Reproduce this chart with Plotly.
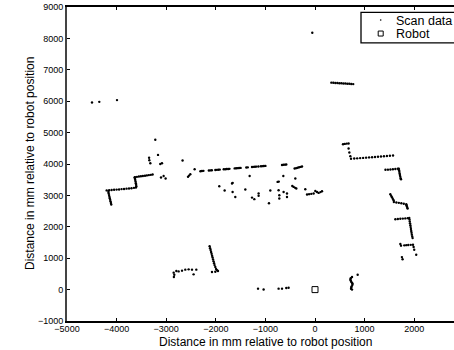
import plotly.graph_objects as go

# ---------------- data (mm) ----------------
scan_x = [
    # far points
    -4496, -4349, -3992, -55,
    # lower-left wall
    -4200, -4150, -4100, -4050, -4000, -3950, -3900, -3850, -3800, -3750, -3700, -3650, -3610,
    -4165, -4160, -4152, -4145, -4138, -4130, -4122, -4115, -4108,
    -3602, -3607, -3612, -3618, -3624, -3630, -3636,
    -3630, -3590, -3550, -3510, -3470, -3428, -3390, -3350, -3310, -3274,
    # scattered upper-left
    -3220, -3345, -3340, -3320, -3165, -3120, -3085, -2670, -3105, -3052, -3012,
    -2560, -2540, -2514, -2427,
    # long dashed wall
    -2310, -2280, -2250, -2140, -2110, -2080, -2010, -1980, -1950, -1920,
    -1840, -1810, -1780, -1750, -1725, -1620, -1590, -1560, -1530, -1500,
    -1385, -1355, -1270, -1240, -1210, -1180, -1140, -1090, -1060, -1030, -1000,
    -665, -635, -605, -579, -411, -380, -350, -320, -290, -262,
    # scattered middle
    -1318, -1930, -1673, -1660, -1822, -1661, -1607, -1405, -1270, -1224, -1137, -1137,
    -928, -901, -754, -730, -639, -734, -720, -720, -633, -565, -565, -397,
    -458, -430, -400, -377, -196, -161, -120, -75, -28, 6, 40, 73, 110, 141,
    # right upper wall
    330, 370, 410, 450, 490, 530, 570, 610, 650, 690, 730, 770,
    565, 600, 640, 677, 677, 692, 712,
    726, 790, 850, 910, 970, 1030, 1090, 1150, 1210, 1270, 1330, 1390, 1450, 1510, 1573,
    1420, 1470, 1520, 1570, 1620, 1670, 1690,
    1695, 1700, 1706, 1712, 1718, 1726, 1734,
    1518, 1535, 1552, 1568, 1585,
    1590, 1640, 1690, 1740, 1790, 1840,
    1845, 1852, 1860, 1867,
    1620, 1670, 1720, 1770, 1820, 1870, 1900,
    1905, 1910, 1916, 1922, 1928, 1934, 1940, 1946, 1952, 1960, 1968,
    1720, 1734, 1800, 1840, 1880, 1930, 1975, 1988, 2000, 2040, 1752, 1765,
    # lower-left objects
    -2125, -2115, -2105, -2095, -2085, -2075, -2065, -2055, -2045, -2035, -2025, -2010,
    -1995, -1975, -1956, -2077, -2010,
    -2850, -2837, -2845, -2796, -2750, -2681, -2615, -2548, -2480, -2448, -2393,
    # near robot
    -1149, -1036, -734, -665, -579, -532,
    746, 720, 712, 722, 732, 745, 758, 752, 738, 730, 726, 746, 860,
]
scan_y = [
    5960, 5980, 6035, 8180,
    3160, 3165, 3170, 3180, 3185, 3190, 3200, 3205, 3215, 3220, 3230, 3240, 3250,
    3110, 3060, 3010, 2960, 2910, 2860, 2810, 2760, 2710,
    3290, 3340, 3390, 3440, 3490, 3530, 3570,
    3582, 3590, 3600, 3610, 3618, 3628, 3637, 3646, 3655, 3665,
    4770, 4200, 4120, 4025, 4290, 4000, 4025, 4110, 3570, 3620, 3540,
    3590, 3630, 3675, 3835,
    3770, 3778, 3782, 3792, 3796, 3800, 3809, 3813, 3817, 3821,
    3831, 3835, 3839, 3843, 3846, 3860, 3864, 3868, 3872, 3875,
    3890, 3894, 3905, 3909, 3913, 3917, 3922, 3928, 3932, 3936, 3940,
    3970, 3975, 3980, 3985, 3855, 3868, 3880, 3895, 3908, 3920,
    3620, 3290, 3380, 3400, 3155, 3110, 2950, 3190, 2930, 2880, 3060, 2985,
    2750, 3155, 3430, 3440, 3620, 3165, 3005, 2900, 3110, 3060, 2950, 3540,
    3300, 3270, 3240, 3220, 3195, 3030, 3040, 3050, 3060, 3140, 3110, 3080, 3105, 3130,
    6590, 6586, 6582, 6578, 6574, 6570, 6566, 6562, 6558, 6554, 6550, 6545,
    4630, 4640, 4650, 4655, 4495, 4365, 4250,
    4165, 4173, 4180, 4188, 4195, 4202, 4210, 4217, 4225, 4232, 4240, 4247, 4255, 4262, 4270,
    3815, 3820, 3826, 3832, 3840, 3848, 3852,
    3800, 3750, 3700, 3650, 3600, 3550, 3515,
    3035, 2985, 2940, 2890, 2845,
    2790, 2776, 2762, 2748, 2734, 2720,
    2690, 2650, 2610, 2580,
    2240, 2247, 2254, 2261, 2268, 2275, 2280,
    2230, 2170, 2110, 2050, 1990, 1930, 1870, 1810, 1750, 1690, 1640,
    1450, 1400, 1410, 1415, 1420, 1425, 1430, 1355, 1270, 1110, 1035, 965,
    1380, 1320, 1260, 1200, 1140, 1080, 1020, 960, 900, 840, 780, 720,
    660, 620, 590, 560, 570,
    540, 475, 400, 590, 580, 603, 635, 645, 635, 485, 635,
    30, 5, 30, 30, 50, 60,
    400, 360, 316, 280, 240, 215, 188, 150, 102, 65, 29, 0, 475,
]
robot_x = [0]
robot_y = [0]

x_ticks = [-5000, -4000, -3000, -2000, -1000, 0, 1000, 2000]
y_ticks = [-1000, 0, 1000, 2000, 3000, 4000, 5000, 6000, 7000, 8000, 9000]
x_title = "Distance in mm relative to robot position"
y_title = "Distance in mm relative to robot position"
legend_labels = ["Scan data", "Robot"]

FONT = "Liberation Sans, Arial, Helvetica, sans-serif"

fig = go.Figure()
fig.add_trace(go.Scatter(x=scan_x, y=scan_y, mode="markers", name=legend_labels[0],
                         marker=dict(color="black", size=2.4), showlegend=False))
fig.add_trace(go.Scatter(x=robot_x, y=robot_y, mode="markers", name=legend_labels[1],
                         marker=dict(symbol="square-open", color="black", size=6,
                                     line=dict(width=1, color="black")),
                         showlegend=False))

fig.update_layout(
    width=454, height=350,
    margin=dict(l=67, r=0, t=7, b=29),
    paper_bgcolor="white", plot_bgcolor="white",
    font=dict(family=FONT, color="black", size=9),
    xaxis=dict(range=[-5000, 2802], tickvals=x_ticks, ticks="inside", ticklen=3,
               tickcolor="black", showline=True, linecolor="black", linewidth=1.5,
               mirror="ticks", showgrid=False, zeroline=False, ticklabelstandoff=-2,
               tickfont=dict(size=9, family=FONT)),
    yaxis=dict(range=[-1000, 9000], tickvals=y_ticks, ticks="inside", ticklen=3,
               tickcolor="black", showline=True, linecolor="#444", linewidth=2,
               mirror=False, showgrid=False, zeroline=False,
               tickfont=dict(size=9, family=FONT)),
)

# axis titles
fig.add_annotation(x=-1000, xref="x", y=-0.0675, yref="paper", text=x_title, showarrow=False,
                   yanchor="middle", xanchor="center", borderpad=0,
                   font=dict(size=12, family=FONT))
fig.add_annotation(x=-0.0956, xref="paper", y=0.5, yref="paper", text=y_title, showarrow=False,
                   textangle=-90, xanchor="center", yanchor="middle",
                   font=dict(size=12, family=FONT))

# legend box (drawn manually, extends past right edge like the reference)
fig.add_shape(type="rect", xref="paper", yref="paper", x0=0.7597, x1=1.08,
              y0=0.886, y1=0.983, line=dict(color="black", width=1.3), fillcolor="white",
              layer="above")
fig.add_shape(type="circle", xref="paper", yref="paper", xsizemode="pixel", ysizemode="pixel",
              xanchor=0.8106, yanchor=0.9585, x0=-0.8, x1=0.8, y0=-0.8, y1=0.8,
              fillcolor="black", line=dict(width=0), layer="above")
fig.add_shape(type="rect", xref="paper", yref="paper", xsizemode="pixel", ysizemode="pixel",
              xanchor=0.8106, yanchor=0.9155, x0=-2.5, x1=2.5, y0=-2.5, y1=2.5,
              fillcolor="white", line=dict(width=1, color="black"), layer="above")
fig.add_annotation(x=0.845, xref="paper", y=0.954, yref="paper", text=legend_labels[0],
                   showarrow=False, xanchor="left", yanchor="middle",
                   font=dict(size=12.5, family=FONT))
fig.add_annotation(x=0.845, xref="paper", y=0.914, yref="paper", text=legend_labels[1],
                   showarrow=False, xanchor="left", yanchor="middle",
                   font=dict(size=12.5, family=FONT))

fig.write_html("out.html",
               config={"displayModeBar": False},
               post_script="document.body.style.margin='0px';"
                           "document.body.style.overflow='hidden';")
